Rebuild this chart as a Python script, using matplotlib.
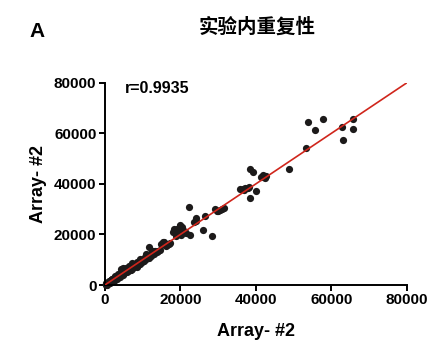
import matplotlib
matplotlib.use("Agg")
import matplotlib.pyplot as plt

# signal values for the two replicate arrays
array_x = [
    200, 400, 600, 800, 1000, 1200, 1400, 1600, 1800, 2000, 2200, 2400, 2600, 2800, 3000,
    3200, 3400, 3600, 3800, 4000, 4200, 4500, 4700, 5000, 300, 700, 1100, 1500, 1900, 2300,
    2700, 3100, 3500, 3900, 4300, 4800, 500, 900, 1300, 1700, 4200, 4800, 5400,
    5200, 5500, 5800, 6000, 6200, 6500, 6800, 7000, 7200, 7500, 7800, 8000, 8300, 8500,
    8800, 9000, 9300, 9500, 9800, 10000, 6400, 7300, 5700, 9200, 8600, 6900,
    10300, 10600, 11000, 11300, 11700, 12000, 12300, 12600, 13000, 13300, 13700, 14000,
    14500, 11700, 10800, 12800,
    15000, 15500, 16000, 16500, 17000, 17200, 15800, 16200,
    18100, 18500, 19000, 19300, 19700, 20000, 20400, 20800, 19500, 18800, 21200, 21600,
    20200, 19900, 18300,
    22490, 22230, 23550, 24250, 24100, 26640, 26020, 28400,
    29100, 29800, 30500, 31000, 31500, 30000,
    35800, 36500, 37200, 37800, 38300, 36900, 39950, 38370, 38540, 39250,
    41300, 41800, 42400, 42700, 48690, 53180, 53800, 55570, 57770, 62890, 63060, 65700, 65700,
]
array_y = [
    150, 500, 450, 900, 800, 1300, 1100, 1800, 1500, 2200, 1900, 2700, 2300, 3100, 2600,
    3500, 3000, 4000, 3400, 4300, 3800, 4800, 4200, 5300, 600, 300, 1500, 1000, 2500, 1700,
    3400, 2400, 4300, 3100, 5000, 4000, 200, 1200, 800, 2100, 6200, 6600, 6300,
    4600, 5800, 5200, 6500, 5600, 7000, 6100, 7400, 6500, 8000, 7000, 8400, 7600, 9000,
    8000, 9300, 8500, 9800, 9000, 10300, 7600, 8600, 6800, 10200, 7200, 5800,
    9500, 11000, 10200, 11600, 10800, 12400, 11400, 12900, 12100, 13400, 13000, 13500,
    13800, 14900, 12300, 13600,
    16400, 16900, 16000, 15800, 16200, 16600, 17200, 15600,
    20800, 21500, 22000, 21200, 22500, 23300, 22800, 21800, 20200, 19400, 20900, 20500,
    19800, 23600, 22200,
    19830, 30800, 24850, 26440, 25500, 27230, 21950, 19570,
    30100, 29400, 29800, 30100, 30300, 29200,
    37800, 38100, 38300, 38500, 38900, 37600, 37150, 34370, 45870, 44680,
    42900, 43400, 42400, 43100, 45740, 54330, 64500, 61200, 65570, 62530, 57240, 65570, 61740,
]

# fitted line
fit_x = [0, 80000]
fit_y = [0, 80000]
r_text = "r=0.9935"
ticks = [0, 20000, 40000, 60000, 80000]

plt.rcParams['font.family'] = ['Liberation Sans', 'DejaVu Sans']

fig = plt.figure(figsize=(4.48, 3.51), dpi=100)
ax = fig.add_axes([0.234, 0.188, 0.674, 0.576])

ax.plot(fit_x, fit_y, color="#d0261c", lw=1.2, zorder=3)
ax.scatter(array_x, array_y, s=27, color="#1c1a1a", linewidths=0, zorder=2, clip_on=False)

ax.set_xlim(0, 80000)
ax.set_ylim(0, 80000)
ax.set_xticks(ticks)
ax.set_yticks(ticks)
ax.set_xticklabels([str(t) for t in ticks], fontsize=11, fontweight="bold")
ax.set_yticklabels([str(t) for t in ticks], fontsize=11, fontweight="bold")
ax.tick_params(width=1.4, length=4, pad=2)

for side in ["top", "right"]:
    ax.spines[side].set_visible(False)
for side in ["left", "bottom"]:
    ax.spines[side].set_linewidth(1.4)

ax.set_xlabel("Array- #2", fontsize=13, fontweight="bold", labelpad=11)
ax.set_ylabel("Array- #2", fontsize=13, fontweight="bold", labelpad=5)

ax.text(0.065, 0.97, r_text, transform=ax.transAxes, fontsize=11.5, fontweight="bold",
        va="center", ha="left")

fig.text(0.066, 0.909, "A", fontsize=15, fontweight="bold", va="center", ha="left")
fig.text(0.574, 0.923, "实验内重复性", fontsize=14, fontweight="bold", va="center", ha="center",
         family=["Noto Sans CJK SC", "DejaVu Sans"])

fig.savefig("out.png", dpi=100)
